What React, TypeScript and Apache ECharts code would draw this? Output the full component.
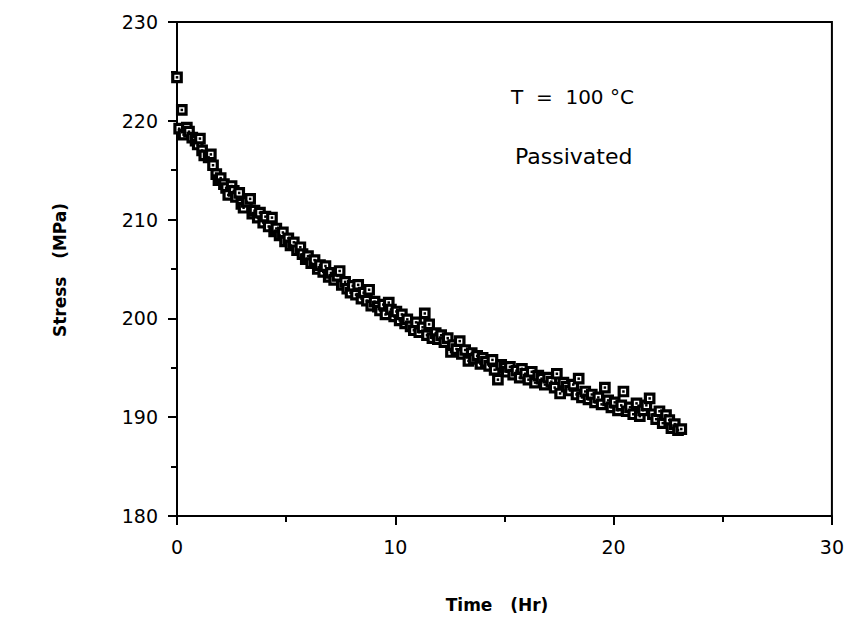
import React, { useEffect, useRef } from "react";
import * as echarts from "echarts";

const timeHr: number[] = [
  0.0, 0.1, 0.22, 0.3, 0.45, 0.55, 0.7, 0.85, 0.95, 1.05, 1.15, 1.25, 1.45, 1.55, 1.65, 1.8, 1.9, 2.0,
  2.15, 2.25, 2.35, 2.5, 2.6, 2.7, 2.85, 2.95, 3.05, 3.2, 3.35, 3.45, 3.55, 3.7, 3.8, 3.95, 4.05, 4.2,
  4.35, 4.45, 4.55, 4.7, 4.85, 4.95, 5.1, 5.2, 5.35, 5.5, 5.65, 5.75, 5.9, 6.0, 6.15, 6.3, 6.45, 6.55,
  6.7, 6.8, 6.95, 7.05, 7.2, 7.35, 7.45, 7.55, 7.7, 7.8, 7.95, 8.05, 8.2, 8.3, 8.45, 8.55, 8.7, 8.8,
  8.9, 9.05, 9.2, 9.3, 9.45, 9.55, 9.7, 9.8, 9.95, 10.05, 10.2, 10.3, 10.45, 10.55, 10.7, 10.85, 10.95,
  11.1, 11.25, 11.35, 11.45, 11.55, 11.7, 11.85, 11.95, 12.1, 12.25, 12.4, 12.55, 12.65, 12.8, 12.95,
  13.05, 13.2, 13.35, 13.5, 13.6, 13.75, 13.9, 14.0, 14.15, 14.3, 14.45, 14.55, 14.7, 14.85, 15.0, 15.1,
  15.25, 15.4, 15.55, 15.7, 15.8, 15.95, 16.1, 16.25, 16.4, 16.55, 16.7, 16.85, 17.0, 17.15, 17.3, 17.4,
  17.55, 17.7, 17.85, 18.0, 18.15, 18.3, 18.4, 18.55, 18.7, 18.85, 19.0, 19.15, 19.3, 19.45, 19.6, 19.75,
  19.9, 20.05, 20.2, 20.35, 20.45, 20.6, 20.75, 20.9, 21.05, 21.2, 21.35, 21.5, 21.65, 21.8, 21.95, 22.1,
  22.25, 22.4, 22.55, 22.65, 22.8, 22.95, 23.1,
];

const stressMPa: number[] = [
  224.4, 219.2, 221.1, 218.6, 219.3, 218.9, 218.3, 218.0, 217.6, 218.2, 217.0, 216.5, 216.3, 216.6, 215.5,
  214.6, 214.0, 214.2, 213.6, 213.2, 212.5, 213.4, 212.9, 212.3, 212.7, 211.6, 211.2, 211.8, 212.1, 210.6,
  210.9, 210.2, 210.7, 209.7, 210.3, 209.3, 210.2, 208.8, 209.1, 208.4, 208.7, 207.8, 208.1, 207.4, 207.7,
  206.9, 207.2, 206.5, 206.0, 206.3, 205.6, 205.9, 205.0, 205.4, 204.7, 205.3, 204.2, 204.6, 203.9, 204.3,
  204.8, 203.4, 203.7, 203.0, 202.6, 203.3, 202.4, 203.4, 202.0, 202.6, 201.8, 202.9, 201.3, 201.7, 201.2,
  200.8, 201.4, 200.4, 201.6, 200.9, 200.2, 200.7, 199.8, 200.4, 199.5, 199.9, 199.2, 198.8, 199.6, 198.6,
  199.1, 200.5, 198.3, 199.4, 198.0, 198.5, 197.9, 198.3, 197.6, 198.0, 196.6, 197.3, 196.9, 197.7, 196.4,
  196.8, 195.7, 196.5, 195.9, 196.2, 195.4, 196.0, 195.6, 195.2, 195.8, 194.8, 193.8, 195.3, 195.0, 194.6,
  195.1, 194.3, 194.7, 194.0, 194.9, 194.4, 193.8, 194.6, 193.5, 194.2, 193.9, 193.3, 194.0, 193.6, 193.0,
  194.4, 192.4, 193.5, 193.1, 192.7, 193.3, 192.3, 193.9, 192.0, 192.6, 191.8, 192.3, 191.5, 192.0, 191.3,
  193.0, 191.7, 191.0, 191.5, 190.7, 191.2, 192.6, 190.6, 191.0, 190.3, 191.4, 190.1, 190.7, 191.2, 191.9,
  190.3, 189.8, 190.6, 189.4, 190.2, 189.7, 188.9, 189.3, 188.7, 188.8,
];

const xTicks = { min: 0, max: 30, interval: 10 };
const yTicks = { min: 180, max: 230, interval: 10 };

const xTitle = "Time   (Hr)";
const yTitle = "Stress   (MPa)";
const note1 = "T  =  100 °C";
const note2 = "Passivated";

export default function App() {
  const ref = useRef<HTMLDivElement>(null);
  useEffect(() => {
    if (!ref.current) return;
    const chart = echarts.init(ref.current, null, { renderer: "svg" });
    const pts = timeHr.map((t, i) => [t, stressMPa[i]]);
    const font = "'DejaVu Sans', 'Liberation Sans', Arial, sans-serif";
    const axisCommon = {
      axisLine: { show: true, onZero: false, lineStyle: { color: "#000", width: 2 } },
      axisTick: { show: true, inside: false, length: 9, lineStyle: { color: "#000", width: 2 } },
      minorTick: { show: true, splitNumber: 2, length: 6, lineStyle: { color: "#000", width: 2 } },
      splitLine: { show: false },
      axisLabel: { color: "#000", fontSize: 19, fontFamily: font },
    };
    chart.setOption({
      animation: false,
      backgroundColor: "#fff",
      grid: {
        left: 177,
        right: 15,
        top: 22,
        bottom: 105,
        show: true,
        borderColor: "#000",
        borderWidth: 2,
        backgroundColor: "transparent",
      },
      xAxis: {
        type: "value",
        ...xTicks,
        ...axisCommon,
        axisLabel: { ...axisCommon.axisLabel, margin: 21 },
      },
      yAxis: {
        type: "value",
        ...yTicks,
        ...axisCommon,
        axisLabel: { ...axisCommon.axisLabel, margin: 19 },
      },
      graphic: [
        {
          type: "text",
          x: 497,
          y: 605,
          style: {
            text: xTitle,
            fill: "#000",
            font: `bold 17px ${font}`,
            align: "center",
            verticalAlign: "middle",
          },
        },
        {
          type: "text",
          x: 60,
          y: 270,
          rotation: Math.PI / 2,
          style: {
            text: yTitle,
            fill: "#000",
            font: `bold 17px ${font}`,
            align: "center",
            verticalAlign: "middle",
          },
        },
        {
          type: "text",
          x: 511,
          y: 97,
          style: { text: note1, fill: "#000", font: `20px ${font}`, align: "left", verticalAlign: "middle" },
        },
        {
          type: "text",
          x: 515,
          y: 156,
          style: { text: note2, fill: "#000", font: `22px ${font}`, align: "left", verticalAlign: "middle" },
        },
      ],
      series: [
        {
          type: "scatter",
          data: pts,
          symbol: "rect",
          symbolSize: 8.5,
          itemStyle: { color: "#fff", borderColor: "#000", borderWidth: 3.2, opacity: 1 },
          z: 2,
        },
        {
          type: "scatter",
          data: pts,
          symbol: "rect",
          symbolSize: 2.5,
          itemStyle: { color: "#000", opacity: 1 },
          z: 3,
        },
      ],
    });
    return () => chart.dispose();
  }, []);
  return <div ref={ref} style={{ width: 847, height: 621, position: "absolute", left: 0, top: 0 }} />;
}
